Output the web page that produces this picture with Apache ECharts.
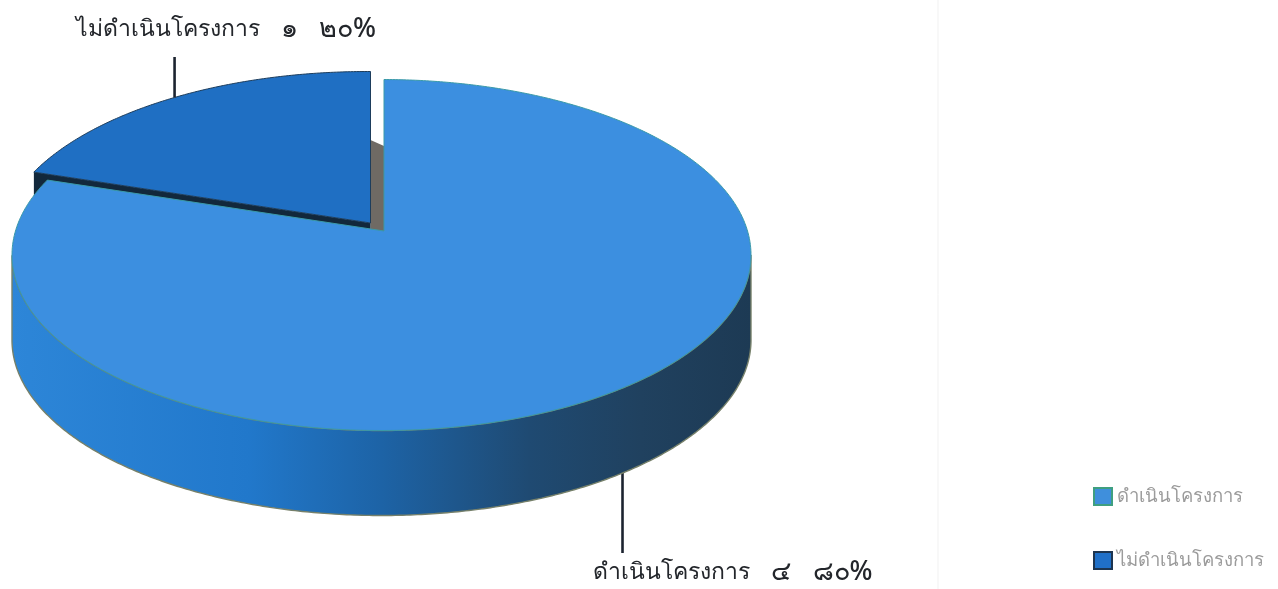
<!DOCTYPE html>
<html><head><meta charset="utf-8">
<style>html,body{margin:0;padding:0;background:#fff}#c{width:1278px;height:589px}</style>
<script src="https://cdn.jsdelivr.net/npm/echarts@6/dist/echarts.min.js"></script>
</head><body><div id="c"></div>
<script>
const categories = ['ดำเนินโครงการ', 'ไม่ดำเนินโครงการ'];
const values = [4, 1];
const countLabels = ['๔', '๑'];
const percentLabels = ['๘๐%', '๒๐%'];

const FONT = '"Noto Sans","Liberation Sans","DejaVu Sans",sans-serif';
const disc = {cx: 381.5, cy: 255, rx: 369.5, ry: 175.5, ax: 384, ay: 231, by: 172, depth: 85};
const explode = {dx: -13.5, dy: -8};
const total = values.reduce((a, b) => a + b, 0);
const spanMain = values[0] / total * 360;

function rim(deg, off) {
  const f = deg * Math.PI / 180;
  const dx = disc.rx * Math.sin(f), dy = -disc.by * Math.cos(f);
  const px = (disc.ax - disc.cx) / disc.rx, py = (disc.ay - disc.cy) / disc.ry;
  const qx = dx / disc.rx, qy = dy / disc.ry;
  const A = qx * qx + qy * qy, B = 2 * (px * qx + py * qy), C = px * px + py * py - 1;
  const t = (-B + Math.sqrt(B * B - 4 * A * C)) / (2 * A);
  return [disc.ax + t * dx + off[0], disc.ay + t * dy + off[1]];
}
function arc(from, to, off) {
  const pts = [], n = Math.ceil(Math.abs(to - from) * 2);
  for (let i = 0; i <= n; i++) pts.push(rim(from + (to - from) * i / n, off));
  return pts;
}
const poly = (points, style) => ({type: 'polygon', shape: {points}, style});
const line = (a, b) => ({type: 'line', shape: {x1: a[0], y1: a[1], x2: b[0], y2: b[1]},
  style: {stroke: '#1c2430', lineWidth: 2.6}});
const text = (i, x, y) => ({type: 'text', style: {
  text: '{n|' + categories[i] + '}{d|   ' + countLabels[i] + '   ' + percentLabels[i] + '}',
  x, y, align: 'center', verticalAlign: 'middle',
  rich: {
    n: {fill: '#23262b', font: '500 23px ' + FONT},
    d: {fill: '#23262b', font: '500 27px ' + FONT}
  }}});

function renderWedge() {
  const off = [explode.dx, explode.dy];
  const apex = [disc.ax + off[0], disc.ay + off[1]];
  const outer = arc(spanMain, 360, off);
  const edge = outer[0];
  const wallDown = [[edge[0], edge[1]], apex, [apex[0], apex[1] + disc.depth], [edge[0], edge[1] + disc.depth]];
  const mid = rim(spanMain + (360 - spanMain) / 2, off);
  return {type: 'group', children: [
    poly([[apex[0], 140], [disc.ax, 146], [disc.ax, disc.ay + 1], [apex[0], disc.ay + 1]], {fill: '#6f6a64'}),
    poly(wallDown, {fill: '#12283c'}),
    poly(outer.concat([apex]), {fill: '#1f6fc3', stroke: '#1d3d5c', lineWidth: 1}),
    line(mid, [mid[0], 57]),
    text(1, 226, 29)
  ]};
}
function renderMain() {
  const off = [0, 0];
  const top = arc(0, spanMain, off).concat([[disc.ax, disc.ay]]);
  const front = arc(0, spanMain, off).filter(p => p[1] >= disc.cy);
  const side = front.concat(front.slice().reverse().map(p => [p[0], p[1] + disc.depth]));
  const mid = rim(spanMain / 2, off);
  return {type: 'group', children: [
    line([mid[0] - 4, mid[1] + disc.depth], [mid[0] - 4, 553]),
    poly(side, {
      fill: {type: 'linear', x: 0, y: 0, x2: 1, y2: 0, colorStops: [
        {offset: 0, color: '#2d86d8'}, {offset: 0.32, color: '#2178cb'}, {offset: 0.5, color: '#1d63a6'},
        {offset: 0.7, color: '#1f4a72'}, {offset: 0.85, color: '#20415f'}, {offset: 1, color: '#1d3a54'}]},
      stroke: '#76806a', lineWidth: 1.4}),
    poly(top, {fill: '#3c8fe0', stroke: '#3a9aa8', lineWidth: 1}),
    text(0, 733, 572)
  ]};
}

const chart = echarts.init(document.getElementById('c'));
chart.setOption({
  animation: false,
  backgroundColor: '#fff',
  legend: {
    orient: 'vertical', left: 1088, top: 482, itemWidth: 18, itemHeight: 17, itemGap: 45, icon: 'rect',
    selectedMode: false,
    textStyle: {color: '#9b9b9b', fontSize: 18.5, fontFamily: FONT},
    data: [
      {name: categories[0], itemStyle: {color: '#3f8fdc', borderColor: '#3f9f80', borderWidth: 2}},
      {name: categories[1], itemStyle: {color: '#2070c8', borderColor: '#1d3550', borderWidth: 2}}
    ]
  },
  graphic: [{type: 'line', shape: {x1: 938, y1: 0, x2: 938, y2: 589}, style: {stroke: '#f1f1f1', lineWidth: 1}}],
  series: [
    {type: 'custom', name: categories[1], coordinateSystem: 'none', silent: true, z: 2,
      data: [values[1]], renderItem: renderWedge},
    {type: 'custom', name: categories[0], coordinateSystem: 'none', silent: true, z: 3,
      data: [values[0]], renderItem: renderMain}
  ]
});
</script></body></html>
